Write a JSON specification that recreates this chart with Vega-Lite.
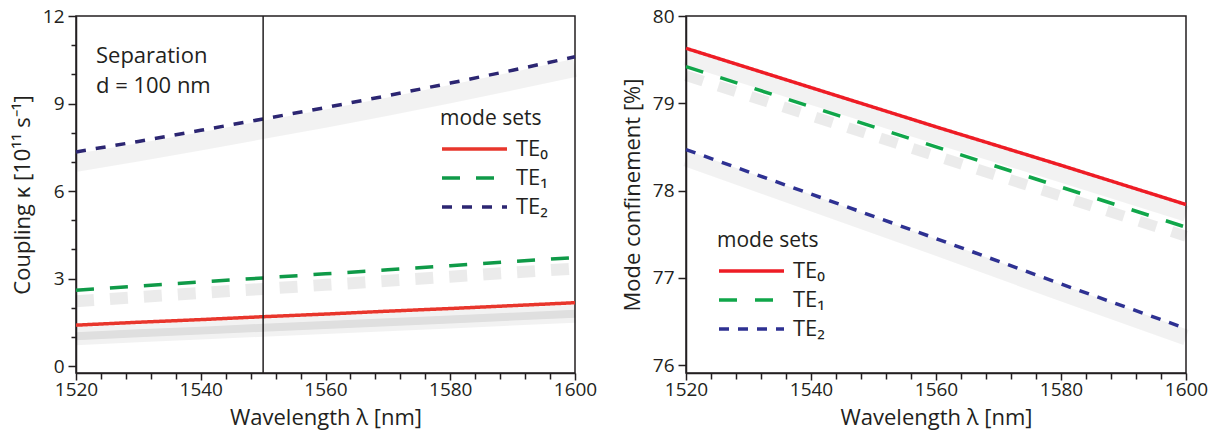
{
  "$schema": "https://vega.github.io/schema/vega-lite/v6.json",
  "background": "white",
  "padding": {"left": 10, "top": 6, "right": 2, "bottom": 3},
  "config": {
    "font": "Open Sans",
    "view": {"stroke": "#231f20", "strokeWidth": 1.5},
    "axis": {
      "domainColor": "#231f20", "domainWidth": 1.5,
      "tickColor": "#231f20", "tickWidth": 1.5,
      "labelFont": "Open Sans", "labelFontSize": 19, "labelColor": "#231f20",
      "titleFont": "Open Sans", "titleFontSize": 22, "titleFontWeight": "normal", "titleColor": "#231f20",
      "grid": false
    },
    "legend": {
      "titleFont": "Open Sans", "titleFontSize": 21, "titleFontWeight": "normal", "titleColor": "#231f20",
      "labelFont": "Open Sans", "labelFontSize": 22, "labelColor": "#231f20",
      "symbolType": "M-1,0H5.5", "symbolSize": 400, "symbolStrokeWidth": 3.5, "labelOffset": 52, "rowPadding": 6, "titlePadding": 8
    }
  },
  "datasets": {
    "coupling": [
      {"mode": "TE₀", "lambda": 1520, "value": 1.40},
      {"mode": "TE₀", "lambda": 1530, "value": 1.50},
      {"mode": "TE₀", "lambda": 1540, "value": 1.59},
      {"mode": "TE₀", "lambda": 1550, "value": 1.69},
      {"mode": "TE₀", "lambda": 1560, "value": 1.78},
      {"mode": "TE₀", "lambda": 1570, "value": 1.88},
      {"mode": "TE₀", "lambda": 1580, "value": 1.97},
      {"mode": "TE₀", "lambda": 1590, "value": 2.07},
      {"mode": "TE₀", "lambda": 1600, "value": 2.17},
      {"mode": "TE₁", "lambda": 1520, "value": 2.60},
      {"mode": "TE₁", "lambda": 1530, "value": 2.74},
      {"mode": "TE₁", "lambda": 1540, "value": 2.88},
      {"mode": "TE₁", "lambda": 1550, "value": 3.02},
      {"mode": "TE₁", "lambda": 1560, "value": 3.16},
      {"mode": "TE₁", "lambda": 1570, "value": 3.30},
      {"mode": "TE₁", "lambda": 1580, "value": 3.44},
      {"mode": "TE₁", "lambda": 1590, "value": 3.58},
      {"mode": "TE₁", "lambda": 1600, "value": 3.72},
      {"mode": "TE₂", "lambda": 1520, "value": 7.34},
      {"mode": "TE₂", "lambda": 1530, "value": 7.70},
      {"mode": "TE₂", "lambda": 1540, "value": 8.08},
      {"mode": "TE₂", "lambda": 1550, "value": 8.47},
      {"mode": "TE₂", "lambda": 1560, "value": 8.86},
      {"mode": "TE₂", "lambda": 1570, "value": 9.27},
      {"mode": "TE₂", "lambda": 1580, "value": 9.70},
      {"mode": "TE₂", "lambda": 1590, "value": 10.14},
      {"mode": "TE₂", "lambda": 1600, "value": 10.60}
    ],
    "confinement": [
      {"mode": "TE₀", "lambda": 1520, "value": 79.63},
      {"mode": "TE₀", "lambda": 1540, "value": 79.18},
      {"mode": "TE₀", "lambda": 1560, "value": 78.73},
      {"mode": "TE₀", "lambda": 1580, "value": 78.29},
      {"mode": "TE₀", "lambda": 1600, "value": 77.84},
      {"mode": "TE₁", "lambda": 1520, "value": 79.42},
      {"mode": "TE₁", "lambda": 1540, "value": 78.96},
      {"mode": "TE₁", "lambda": 1560, "value": 78.50},
      {"mode": "TE₁", "lambda": 1580, "value": 78.04},
      {"mode": "TE₁", "lambda": 1600, "value": 77.58},
      {"mode": "TE₂", "lambda": 1520, "value": 78.47},
      {"mode": "TE₂", "lambda": 1540, "value": 77.96},
      {"mode": "TE₂", "lambda": 1560, "value": 77.45},
      {"mode": "TE₂", "lambda": 1580, "value": 76.93},
      {"mode": "TE₂", "lambda": 1600, "value": 76.42}
    ]
  },
  "resolve": {"scale": {"color": "independent", "strokeDash": "independent"}},
  "spacing": 8,
  "hconcat": [
    {
      "width": 499,
      "height": 357,
      "layer": [
        {
          "data": {"name": "coupling"},
          "encoding": {
            "x": {
              "field": "lambda", "type": "quantitative", "title": "Wavelength λ [nm]",
              "scale": {"domain": [1520, 1600], "nice": false, "zero": false},
              "axis": {
                "values": [1520, 1524, 1528, 1532, 1536, 1540, 1544, 1548, 1552, 1556, 1560, 1564, 1568, 1572, 1576, 1580, 1584, 1588, 1592, 1596, 1600],
                "format": "d",
                "labelExpr": "datum.value % 20 === 0 ? datum.label : ''",
                "tickSize": {"condition": {"test": "datum.value % 20 === 0", "value": 7}, "value": 6},
                "labelPadding": 0, "titlePadding": 8, "labelOverlap": false, "labelFlush": false
              }
            },
            "y": {
              "field": "value", "type": "quantitative", "title": "Coupling κ [10¹¹ s⁻¹]",
              "scale": {"domain": [-0.24, 12], "nice": false, "zero": false},
              "axis": {
                "values": [0, 1, 2, 3, 4, 5, 6, 7, 8, 9, 10, 11, 12],
                "labelExpr": "datum.value % 3 === 0 ? datum.label : ''",
                "tickSize": {"condition": {"test": "datum.value % 3 === 0", "value": 8}, "value": 5},
                "labelPadding": 4, "titlePadding": 8, "labelOverlap": false
              }
            }
          },
          "layer": [
            {"transform": [{"filter": "datum.mode === 'TE₀'"}], "mark": {"type": "line", "color": "#000", "opacity": 0.05, "strokeWidth": 18, "yOffset": 11}},
            {"transform": [{"filter": "datum.mode === 'TE₀'"}], "mark": {"type": "line", "color": "#000", "opacity": 0.08, "strokeWidth": 8, "yOffset": 11}},
            {"transform": [{"filter": "datum.mode === 'TE₁'"}], "mark": {"type": "line", "color": "#000", "opacity": 0.08, "strokeWidth": 12, "yOffset": 11, "strokeDash": [18, 16]}},
            {"transform": [{"filter": "datum.mode === 'TE₂'"}], "mark": {"type": "line", "color": "#000", "opacity": 0.05, "strokeWidth": 18, "yOffset": 11}},
            {
              "mark": {"type": "line", "strokeWidth": 3.5},
              "encoding": {
                "color": {
                  "field": "mode", "type": "nominal",
                  "scale": {"domain": ["TE₀", "TE₁", "TE₂"], "range": ["#e8362c", "#0f9a48", "#2c2672"]},
                  "legend": {"orient": "none", "legendX": 364, "legendY": 92, "title": "mode sets"}
                },
                "strokeDash": {
                  "field": "mode", "type": "nominal",
                  "scale": {"domain": ["TE₀", "TE₁", "TE₂"], "range": [[1, 0], [18, 16], [10, 10]]},
                  "legend": {"orient": "none", "legendX": 364, "legendY": 92, "title": "mode sets"}
                }
              }
            }
          ]
        },
        {
          "data": {"values": [{"note": "line"}]},
          "mark": {"type": "rule", "color": "#231f20", "strokeWidth": 1.5},
          "encoding": {
            "x": {
              "datum": 1550, "type": "quantitative", "title": "Wavelength λ [nm]",
              "scale": {"domain": [1520, 1600], "nice": false, "zero": false},
              "axis": {
                "values": [1520, 1524, 1528, 1532, 1536, 1540, 1544, 1548, 1552, 1556, 1560, 1564, 1568, 1572, 1576, 1580, 1584, 1588, 1592, 1596, 1600],
                "format": "d",
                "labelExpr": "datum.value % 20 === 0 ? datum.label : ''",
                "tickSize": {"condition": {"test": "datum.value % 20 === 0", "value": 7}, "value": 6},
                "labelPadding": 0, "titlePadding": 8, "labelOverlap": false, "labelFlush": false
              }
            }
          }
        },
        {
          "data": {"values": [{"note": "text"}]},
          "mark": {"type": "text", "align": "left", "baseline": "alphabetic", "fontSize": 22, "lineHeight": 30, "color": "#231f20", "font": "Open Sans"},
          "encoding": {
            "x": {
              "datum": 1523.2, "type": "quantitative", "title": "Wavelength λ [nm]",
              "scale": {"domain": [1520, 1600], "nice": false, "zero": false},
              "axis": {
                "values": [1520, 1524, 1528, 1532, 1536, 1540, 1544, 1548, 1552, 1556, 1560, 1564, 1568, 1572, 1576, 1580, 1584, 1588, 1592, 1596, 1600],
                "format": "d",
                "labelExpr": "datum.value % 20 === 0 ? datum.label : ''",
                "tickSize": {"condition": {"test": "datum.value % 20 === 0", "value": 7}, "value": 6},
                "labelPadding": 0, "titlePadding": 8, "labelOverlap": false, "labelFlush": false
              }
            },
            "y": {
              "datum": 10.39, "type": "quantitative", "title": "Coupling κ [10¹¹ s⁻¹]",
              "scale": {"domain": [-0.24, 12], "nice": false, "zero": false},
              "axis": {
                "values": [0, 1, 2, 3, 4, 5, 6, 7, 8, 9, 10, 11, 12],
                "labelExpr": "datum.value % 3 === 0 ? datum.label : ''",
                "tickSize": {"condition": {"test": "datum.value % 3 === 0", "value": 8}, "value": 5},
                "labelPadding": 4, "titlePadding": 8, "labelOverlap": false
              }
            },
            "text": {"value": ["Separation", "d = 100 nm"]}
          }
        }
      ]
    },
    {
      "width": 500,
      "height": 357,
      "data": {"name": "confinement"},
      "encoding": {
        "x": {
          "field": "lambda", "type": "quantitative", "title": "Wavelength λ [nm]",
          "scale": {"domain": [1520, 1600], "nice": false, "zero": false},
          "axis": {
            "values": [1520, 1524, 1528, 1532, 1536, 1540, 1544, 1548, 1552, 1556, 1560, 1564, 1568, 1572, 1576, 1580, 1584, 1588, 1592, 1596, 1600],
            "format": "d",
            "labelExpr": "datum.value % 20 === 0 ? datum.label : ''",
            "tickSize": {"condition": {"test": "datum.value % 20 === 0", "value": 7}, "value": 6},
            "labelPadding": 0, "titlePadding": 8, "labelOverlap": false, "labelFlush": false
          }
        },
        "y": {
          "field": "value", "type": "quantitative", "title": "Mode confinement [%]",
          "scale": {"domain": [75.91, 80], "nice": false, "zero": false},
          "axis": {
            "values": [76, 76.5, 77, 77.5, 78, 78.5, 79, 79.5, 80],
            "format": "d",
            "labelExpr": "datum.value % 1 === 0 ? datum.label : ''",
            "tickSize": {"condition": {"test": "datum.value % 1 === 0", "value": 8}, "value": 5},
            "labelPadding": 4, "titlePadding": 8, "labelOverlap": false
          }
        }
      },
      "layer": [
        {"transform": [{"filter": "datum.mode === 'TE₀'"}], "mark": {"type": "line", "color": "#000", "opacity": 0.05, "strokeWidth": 16, "yOffset": 9}},
        {"transform": [{"filter": "datum.mode === 'TE₁'"}], "mark": {"type": "line", "color": "#000", "opacity": 0.08, "strokeWidth": 11, "yOffset": 9, "strokeDash": [18, 16]}},
        {"transform": [{"filter": "datum.mode === 'TE₂'"}], "mark": {"type": "line", "color": "#000", "opacity": 0.05, "strokeWidth": 16, "yOffset": 9}},
        {
          "mark": {"type": "line", "strokeWidth": 3.5},
          "encoding": {
            "color": {
              "field": "mode", "type": "nominal",
              "scale": {"domain": ["TE₀", "TE₁", "TE₂"], "range": ["#ee1c25", "#10a64a", "#2e3192"]},
              "legend": {"orient": "none", "legendX": 31, "legendY": 214, "title": "mode sets"}
            },
            "strokeDash": {
              "field": "mode", "type": "nominal",
              "scale": {"domain": ["TE₀", "TE₁", "TE₂"], "range": [[1, 0], [18, 18], [10, 9]]},
              "legend": {"orient": "none", "legendX": 31, "legendY": 214, "title": "mode sets"}
            }
          }
        }
      ]
    }
  ]
}
